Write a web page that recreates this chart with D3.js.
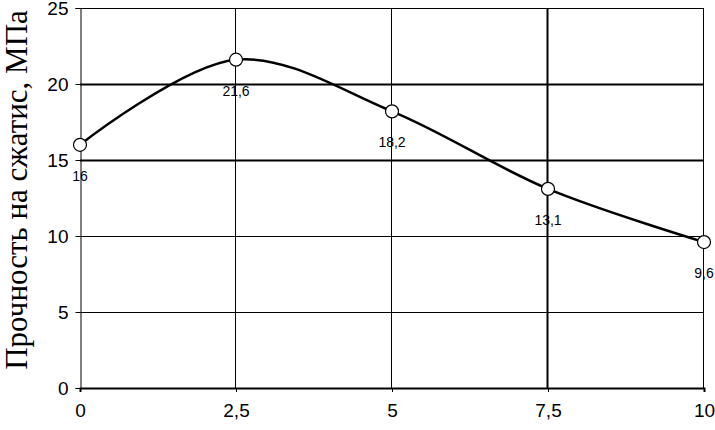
<!DOCTYPE html>
<html>
<head>
<meta charset="utf-8">
<script src="https://cdn.jsdelivr.net/npm/d3@7"></script>
<style>
  body { margin: 0; background: #fff; }
  svg { display: block; }
</style>
</head>
<body>
<div id="chart"></div>
<script>
// data
const xValues = [0, 2.5, 5, 7.5, 10];
const yValues = [16, 21.6, 18.2, 13.1, 9.6];
const pointLabels = ["16", "21,6", "18,2", "13,1", "9,6"];
const xTicks = [0, 2.5, 5, 7.5, 10];
const yTicks = [0, 5, 10, 15, 20, 25];
const yTitle = "Прочность на сжатис, МПа";

const width = 715;
const height = 430;
const margin = { left: 80, right: 11, top: 8, bottom: 42 };

const svg = d3.select("#chart")
  .append("svg")
  .attr("width", width)
  .attr("height", height);

const x = d3.scaleLinear().domain([0, 10]).range([margin.left, width - margin.right]);
const y = d3.scaleLinear().domain([0, 25]).range([height - margin.bottom, margin.top]);

const fmt = d => String(d).replace(".", ",");

// grid lines (some render heavier in the original)
const heavyY = [15, 20];
const heavyX = [7.5];

svg.append("g")
  .selectAll("line")
  .data(yTicks.filter(d => d > 0))
  .enter()
  .append("line")
  .attr("x1", x(0))
  .attr("x2", x(10))
  .attr("y1", d => Math.round(y(d)) + 0.5)
  .attr("y2", d => Math.round(y(d)) + 0.5)
  .attr("stroke", "#000")
  .attr("stroke-width", d => heavyY.includes(d) ? 2 : 1);

svg.append("g")
  .selectAll("line")
  .data(xTicks.filter(d => d > 0))
  .enter()
  .append("line")
  .attr("x1", d => Math.round(x(d)) - 0.5)
  .attr("x2", d => Math.round(x(d)) - 0.5)
  .attr("y1", y(25))
  .attr("y2", y(0))
  .attr("stroke", "#000")
  .attr("stroke-width", d => heavyX.includes(d) ? 2 : 1);

// axes
const yAxis = svg.append("g")
  .attr("transform", `translate(${x(0) + 0.5},0)`)
  .call(d3.axisLeft(y).tickValues(yTicks).tickSize(5).tickPadding(7).tickFormat(fmt));

const xAxis = svg.append("g")
  .attr("transform", `translate(0,${Math.round(y(0))})`)
  .call(d3.axisBottom(x).tickValues(xTicks).tickSize(4).tickPadding(12).tickFormat(fmt));

[yAxis, xAxis].forEach(a => {
  a.select(".domain").attr("stroke", "#000").attr("stroke-width", 1);
  a.selectAll(".tick line").attr("stroke", "#000");
  a.selectAll("text")
    .attr("fill", "#000")
    .style("font-family", "Liberation Sans, Arial, sans-serif")
    .style("font-size", "19px");
});
xAxis.select(".domain").attr("stroke-width", 2);

// y title
svg.append("text")
  .attr("transform", `translate(27,190) rotate(-90)`)
  .attr("text-anchor", "middle")
  .style("font-family", "Liberation Serif, Times New Roman, serif")
  .style("font-size", "31px")
  .attr("fill", "#000")
  .text(yTitle);

// smoothed line
const pts = xValues.map((d, i) => [d, yValues[i]]);
const line = d3.line()
  .x(d => x(d[0]))
  .y(d => y(d[1]))
  .curve(d3.curveCatmullRom.alpha(0.5));

svg.append("path")
  .datum(pts)
  .attr("d", line)
  .attr("fill", "none")
  .attr("stroke", "#000")
  .attr("stroke-width", 2.5);

svg.append("g")
  .selectAll("circle")
  .data(pts)
  .enter()
  .append("circle")
  .attr("cx", d => x(d[0]))
  .attr("cy", d => y(d[1]))
  .attr("r", 6.5)
  .attr("fill", "#fff")
  .attr("stroke", "#000")
  .attr("stroke-width", 1.2);

svg.append("g")
  .selectAll("text")
  .data(pts)
  .enter()
  .append("text")
  .attr("x", d => x(d[0]))
  .attr("y", d => y(d[1]) + 36)
  .attr("text-anchor", "middle")
  .style("font-family", "Liberation Sans, Arial, sans-serif")
  .style("font-size", "14px")
  .attr("fill", "#000")
  .text((d, i) => pointLabels[i]);
</script>
</body>
</html>
